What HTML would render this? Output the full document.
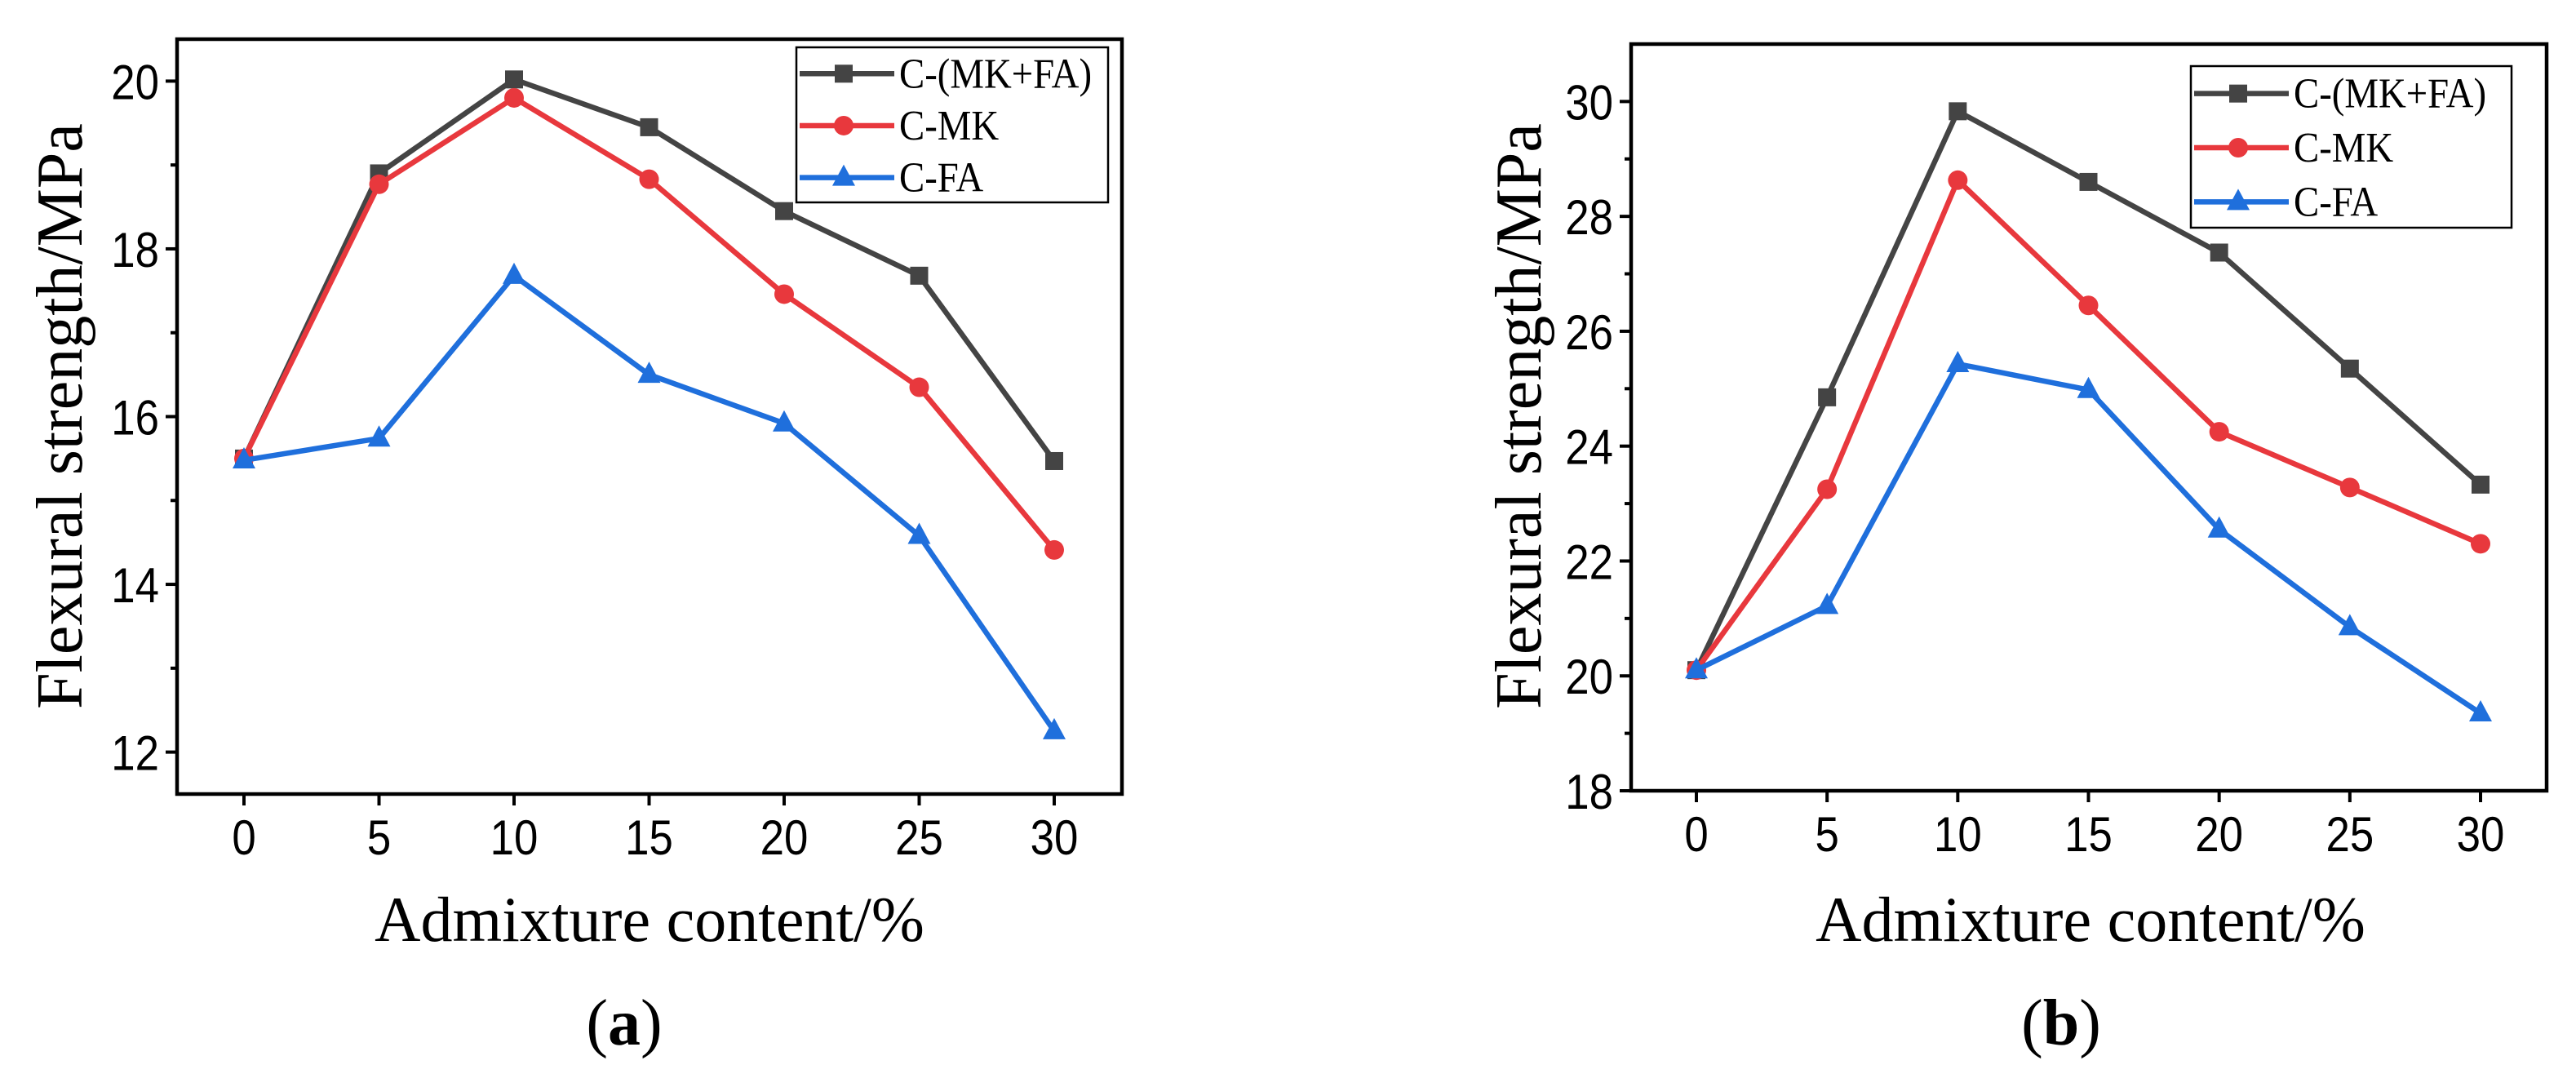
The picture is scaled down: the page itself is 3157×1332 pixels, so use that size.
<!DOCTYPE html>
<html><head><meta charset="utf-8"><style>
html,body{margin:0;padding:0;background:#fff}
svg{display:block}
</style></head><body>
<svg id="fig" width="3157" height="1332" viewBox="0 0 3157 1332" xmlns="http://www.w3.org/2000/svg"></svg>
<script>
const categories=[0,5,10,15,20,25,30];
const seriesNames=["C-(MK+FA)","C-MK","C-FA"];
const aMKFA=[15.5,18.9,20.02,19.45,18.45,17.68,15.47];
const aMK=[15.5,18.77,19.8,18.83,17.46,16.35,14.41];
const aFA=[15.48,15.74,17.68,16.5,15.92,14.58,12.25];
const bMKFA=[20.1,24.85,29.83,28.6,27.37,25.35,23.33];
const bMK=[20.1,23.25,28.63,26.45,24.25,23.28,22.3];
const bFA=[20.1,21.22,25.43,24.98,22.55,20.85,19.35];
const aYTicks=[12,14,16,18,20];
const bYTicks=[18,20,22,24,26,28,30];
const xTickLabels=["0","5","10","15","20","25","30"];

const NS="http://www.w3.org/2000/svg";
const svg=document.getElementById('fig');
function mk(tag,attrs,parent){const e=document.createElementNS(NS,tag);for(const k in attrs)e.setAttribute(k,attrs[k]);(parent||svg).appendChild(e);return e;}
const colors=["#444444","#e8383d","#1f6fdc"];

function panel(cfg){
  const g=mk('g',{});
  
  
  const xs=v=>cfg.x0+(v-0)/(30-0)*(cfg.x30-cfg.x0);
  const ys=v=>cfg.fb+(v-cfg.ymin)/(cfg.ymax-cfg.ymin)*(cfg.ft-cfg.fb);
  const fr=mk('rect',{x:cfg.fl,y:cfg.ft,width:cfg.fr-cfg.fl,height:cfg.fb-cfg.ft,fill:'none',stroke:'#000','stroke-width':4.5},g);
  
  
  cfg.yt.forEach((t,i)=>{
    const y=ys(t);
    mk('line',{x1:cfg.fl-14,x2:cfg.fl,y1:y,y2:y,stroke:'#000','stroke-width':4},g);
    const tx=mk('text',{transform:`translate(${cfg.fl-22},${y+22}) scale(0.88,1)`,'text-anchor':'end','font-family':'Liberation Sans, sans-serif','font-size':60},g);
    tx.textContent=t;
    
    
    if(i<cfg.yt.length-1){const ym=ys(t+(cfg.yt[1]-cfg.yt[0])/2);
      mk('line',{x1:cfg.fl-8,x2:cfg.fl,y1:ym,y2:ym,stroke:'#000','stroke-width':4},g);}
  });
  categories.forEach((c,i)=>{
    const x=xs(c);
    mk('line',{x1:x,x2:x,y1:cfg.fb,y2:cfg.fb+14,stroke:'#000','stroke-width':4},g);
    const tx=mk('text',{transform:`translate(${x},${cfg.fb+74}) scale(0.88,1)`,'text-anchor':'middle','font-family':'Liberation Sans, sans-serif','font-size':60},g);
    tx.textContent=xTickLabels[i];
    
    
  });
  cfg.data.forEach((d,si)=>{
    const sg=mk('g',{},g);
    
    
    mk('polyline',{points:d.map((v,i)=>xs(categories[i])+','+ys(v)).join(' '),fill:'none',stroke:colors[si],'stroke-width':6.5,'stroke-linejoin':'round'},sg);
    d.forEach((v,i)=>marker(sg,si,xs(categories[i]),ys(v)));
  });
  const L=cfg.leg;
  const lg=mk('g',{},g);
  
  
  mk('rect',{x:L.x,y:L.y,width:L.w,height:L.h,fill:'#fff',stroke:'#000','stroke-width':2.5},lg);
  seriesNames.forEach((n,si)=>{
    const y=L.y+L.h*(0.17+si*0.335);
    const eg=mk('g',{},lg);
    
    
    mk('line',{x1:L.x+4,x2:L.x+120,y1:y,y2:y,stroke:colors[si],'stroke-width':6.5},eg);
    marker(eg,si,L.x+58,y);
    const t=mk('text',{transform:`translate(${L.x+126},${y+17}) scale(0.9,1)`,'font-family':'Liberation Serif, serif','font-size':52},eg);
    t.textContent=n;
  });
  const yt=mk('text',{x:0,y:0,transform:`translate(${cfg.ytx},${cfg.ytc}) rotate(-90)`,'text-anchor':'middle','font-family':'Liberation Serif, serif','font-size':80},g);
  yt.textContent='Flexural strength/MPa';
  
  
  const xt=mk('text',{x:cfg.xtx,y:1153,'text-anchor':'middle','font-family':'Liberation Serif, serif','font-size':78},g);
  xt.textContent='Admixture content/%';
  
  
  const cap=mk('text',{x:cfg.capx,y:1280,'text-anchor':'middle','font-family':'Liberation Serif, serif','font-size':80},g);
  cap.innerHTML='(<tspan font-weight="bold">'+cfg.id+'</tspan>)';
  
  
}
function marker(p,si,x,y){
  if(si===0)mk('rect',{x:x-11,y:y-11,width:22,height:22,fill:colors[0]},p);
  else if(si===1)mk('circle',{cx:x,cy:y,r:12,fill:colors[1]},p);
  else mk('polygon',{points:`${x},${y-16} ${x+14},${y+10} ${x-14},${y+10}`,fill:colors[2]},p);
}
panel({id:'a',fl:217,fr:1375,ft:48,fb:973,x0:299,x30:1292,ymin:11.5,ymax:20.5,yt:aYTicks,
  data:[aMKFA,aMK,aFA],leg:{x:976,y:58,w:382,h:190},ytx:100,ytc:510,xtx:796,capx:765});
panel({id:'b',fl:1999,fr:3121,ft:54,fb:969,x0:2079,x30:3040,ymin:18,ymax:31,yt:bYTicks,
  data:[bMKFA,bMK,bFA],leg:{x:2685,y:81,w:393,h:198},ytx:1888,ytc:510,xtx:2562,capx:2526});
</script>
</body></html>
